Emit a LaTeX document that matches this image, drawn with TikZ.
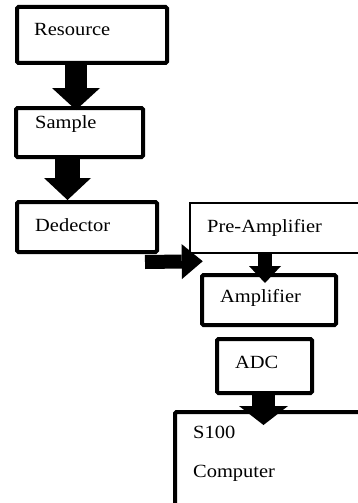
\documentclass[tikz,border=0pt]{standalone}
\usepackage{fontspec}
\setmainfont{Liberation Serif}[FakeStretch=1.1]
\usetikzlibrary{arrows.meta,calc}
\begin{document}
\begin{tikzpicture}[x=1pt,y=-1pt,
  box/.style={draw=black,line width=4pt,rounded corners=1.5pt,rectangle,inner sep=0pt},
  thinbox/.style={draw=black,line width=2.5pt,rectangle,inner sep=0pt},
  lbl/.style={anchor=base west,inner sep=0pt,font=\fontsize{18.6}{20}\selectfont},
  blk/.style={draw=black,line width=#1},
  tip/.style n args={2}{-{Triangle[length=#1,width=#2,line width=0pt]}}]
\useasboundingbox[fill=white] (0,0) rectangle (358,503);
% boxes
\node[box,minimum width=150pt,minimum height=56pt] (res) at (92,35) {};
\node[box,minimum width=127pt,minimum height=49pt] (smp) at (79.5,132.5) {};
\node[box,minimum width=140pt,minimum height=50pt] (ded) at (87,227) {};
\node[thinbox,minimum width=190pt,minimum height=50pt] (pre) at (285,228) {};
\node[box,minimum width=134pt,minimum height=50pt] (amp) at (269,300) {};
\node[box,minimum width=95pt,minimum height=54pt] (adc) at (264.5,366) {};
\node[box,minimum width=225pt,minimum height=128pt] (cmp) at (287.5,476) {};
% labels
\node[lbl] (tres) at (34,35.7) {Resource};
\node[lbl] (tsmp) at (35,128) {Sample};
\node[lbl] (tded) at (35,231) {Dedector};
\node[lbl] (tpre) at (207,232) {Pre-Amplifier};
\node[lbl] (tamp) at (220,302) {Amplifier};
\node[lbl] (tadc) at (235,368) {ADC};
\node[lbl] (ts100) at (193,438) {S100};
\node[lbl] (tcmp) at (193,477) {Computer};
% block arrows
\draw[blk=22pt,tip={22pt}{48pt}] ($(res.south)+(-16,0)$) -- ($(smp.north)+(-3.5,4)$);
\draw[blk=25pt,tip={22pt}{47pt}] ($(smp.south)+(-12,0)$) -- ($(ded.north)+(-19.5,0)$);
\draw[blk=14pt,tip={21pt}{35pt}] ($(ded.south east)+(-14,8)$) -- ($(pre.south west)+(14,7)$);
\draw[blk=14pt,tip={17pt}{32pt}] ($(pre.south)+(-20,-1)$) -- ($(amp.north)+(-4,10)$);
\draw[blk=23pt,tip={19pt}{49pt}] ($(adc.south)+(-1,0)$) -- ($(cmp.north)+(-24,15)$);
\end{tikzpicture}
\end{document}
